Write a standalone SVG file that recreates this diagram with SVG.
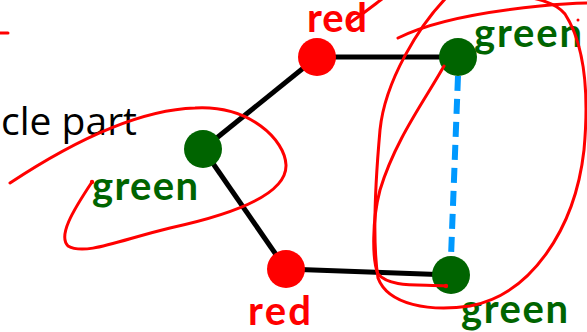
<svg xmlns="http://www.w3.org/2000/svg" width="587" height="332" viewBox="0 0 587 332">
<defs>
<style>
.edge{stroke:#000;stroke-width:5;fill:none}
.dash{stroke:#0099FF;stroke-width:6;stroke-dasharray:15 8;fill:none}
.red{fill:#FF0000}
.green{fill:#006400}
.lbl{font-family:Lato,"Open Sans","Liberation Sans",sans-serif;font-weight:bold;font-size:40px}
.ink{stroke:#FF0000;stroke-width:3;fill:none;stroke-linecap:round;stroke-linejoin:round}
</style>
</defs>
<rect width="587" height="332" fill="#fff"/>
<text x="137" y="135" text-anchor="end" font-family="Open Sans, Liberation Sans, sans-serif" font-size="39" fill="#000">cle part</text>
<g id="connectors">
<line class="edge" x1="317" y1="57" x2="458" y2="57"/>
<line class="edge" x1="317" y1="57" x2="203" y2="149"/>
<line class="edge" x1="203" y1="149" x2="286" y2="269"/>
<line class="edge" x1="286" y1="269" x2="451" y2="275"/>
<line class="dash" x1="458" y1="76" x2="451" y2="257"/>
</g>
<g id="node-red-top">
<circle class="red" cx="317" cy="57" r="19"/>
<text class="lbl red" x="307" y="32" textLength="60" lengthAdjust="spacing">red</text>
</g>
<g id="node-green-top">
<circle class="green" cx="458" cy="57" r="19"/>
<text class="lbl green" x="474" y="47" textLength="108" lengthAdjust="spacing">green</text>
</g>
<g id="node-green-left">
<circle class="green" cx="203" cy="149" r="19"/>
<text class="lbl green" x="92" y="200" textLength="106" lengthAdjust="spacing">green</text>
</g>
<g id="node-red-bottom">
<circle class="red" cx="286" cy="269" r="19"/>
<text class="lbl red" x="248" y="325" textLength="63" lengthAdjust="spacing">red</text>
</g>
<g id="node-green-bottom">
<circle class="green" cx="451" cy="275" r="19"/>
<text class="lbl green" x="461" y="323" textLength="107" lengthAdjust="spacing">green</text>
</g>
<g id="annotations">
<line class="ink" x1="0" y1="33" x2="8" y2="33"/>
<path class="ink" d="M10 183 C60 150,130 110,195 108 C250 105,285 140,286 165 C287 195,230 215,170 228 C120 240,85 256,68 246 C58 236,72 212,92 182"/>
<circle cx="92" cy="182" r="2.2" fill="#FF0000"/>
<path class="ink" d="M348 24 C360 16,370 8,382 -1"/>
<path class="ink" d="M398 38 C430 22,480 12,540 6 C560 4,578 3,592 3"/>
<path class="ink" d="M446 -2 C420 25,385 80,380 130 C376 175,372 240,378 278 C388 305,430 312,470 306 C530 295,575 230,584 150 C589 95,585 45,565 14 C555 2,535 -3,505 -6"/>
<path class="ink" d="M444 66 C425 100,395 140,380 190 C372 220,372 260,378 274 C390 288,420 284,446 286"/>
<circle cx="446" cy="286" r="2.2" fill="#FF0000"/>
<circle cx="578" cy="20" r="1.5" fill="#FF0000"/>
</g>
</svg>
